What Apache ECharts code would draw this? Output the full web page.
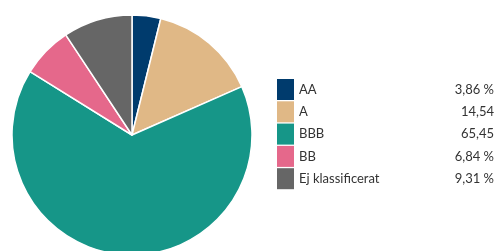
<!DOCTYPE html>
<html><head><meta charset="utf-8">
<script src="https://cdn.jsdelivr.net/npm/echarts@6/dist/echarts.min.js"></script>
<style>html,body{margin:0;padding:0;background:#fff}#c{width:503px;height:251px}</style>
</head><body><div id="c"></div>
<script>
const categories = ["AA", "A", "BBB", "BB", "Ej klassificerat"];
const values = [3.86, 14.54, 65.45, 6.84, 9.31];
const valueLabels = ["3,86 %", "14,54", "65,45", "6,84 %", "9,31 %"];
const colors = ["#003b6d", "#e0b886", "#169688", "#e5688b", "#666666"];

const chart = echarts.init(document.getElementById('c'), null, {renderer: 'canvas'});
chart.setOption({
  animation: false,
  color: colors,
  legend: {
    orient: 'vertical',
    left: 277, top: 79,
    padding: 0,
    itemWidth: 17, itemHeight: 21, itemGap: 1.3,
    icon: 'rect',
    itemStyle: {borderWidth: 0},
    selectedMode: false,
    data: categories,
    formatter: function (name) {
      const i = categories.indexOf(name);
      return '{a|' + name + '}{b|' + valueLabels[i] + '}';
    },
    textStyle: {
      fontFamily: 'Lato', fontSize: 13, color: '#333', lineHeight: 21,
      rich: {
        a: {width: 148, fontFamily: 'Lato', fontSize: 13, color: '#333', lineHeight: 21},
        b: {width: 47, align: 'right', fontFamily: 'Lato', fontSize: 13, color: '#333', lineHeight: 21}
      }
    }
  },
  series: [{
    type: 'pie',
    center: [132, 135],
    radius: 120,
    startAngle: 90,
    clockwise: true,
    label: {show: false},
    labelLine: {show: false},
    silent: true,
    itemStyle: {borderColor: '#fff', borderWidth: 1.5},
    data: categories.map((c, i) => ({name: c, value: values[i]}))
  }]
});
</script></body></html>
